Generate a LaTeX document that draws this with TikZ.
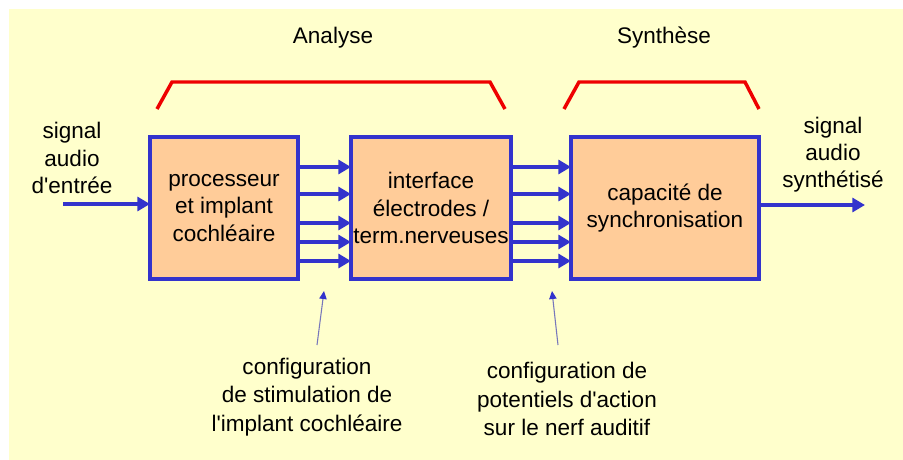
\documentclass[tikz,border=0pt]{standalone}
\usepackage{fontspec}
\setmainfont{Liberation Sans}
\usetikzlibrary{arrows.meta}
\definecolor{bgyellow}{HTML}{FFFFCC}
\definecolor{peach}{HTML}{FFCC99}
\definecolor{dblue}{HTML}{3333CC}
\definecolor{pblue}{HTML}{7777BB}
\definecolor{bred}{HTML}{EE0000}
\begin{document}
\begin{tikzpicture}[x=0.75pt,y=-0.75pt,
  txt/.style={font=\fontsize{16.9}{20.3}\selectfont, align=center, inner sep=0pt},
  lowtxt/.style={font=\fontsize{16.9}{21.5}\selectfont, align=center, inner sep=0pt},
  box/.style={draw=dblue, line width=2.3pt, fill=peach, inner sep=0pt, outer sep=0pt,
    minimum height=106.5pt, font=\fontsize{16.9}{20.3}\selectfont, align=center},
  flow/.style={draw=dblue, line width=2.3pt, -{Triangle[length=9.5pt,width=10.5pt]}},
  pointer/.style={draw=pblue, line width=0.8pt, -{Triangle[length=6pt,width=5.5pt,color=dblue]}},
  bracket/.style={draw=bred, line width=2.6pt}]
\useasboundingbox (0,0) rectangle (903,460);
\fill[white] (0,0) rectangle (903,460);
\fill[bgyellow] (9,9) rectangle (903,460);

% titles
\node[txt] (analyse) at (333,38) {Analyse};
\node[txt] (synthese) at (664,38) {Synthèse};

% brackets
\draw[bracket] (157,109) -- (172,82) -- (490,82) -- (505,109);
\draw[bracket] (564,109) -- (579,82) -- (745,82) -- (759,109);

% boxes
\node[box, minimum width=111pt] (b1) at (224,208) {processeur\\et implant\\cochléaire};
\node[box, minimum width=120pt] (b2) at (431,208) {interface\\électrodes /\\term.nerveuses};
\node[box, minimum width=141pt] (b3) at (665,208) {capacité de\\synchronisation};

% side labels
\node[txt] (inlab) at (72,158) {signal\\audio\\d\textquotesingle entrée};
\node[txt] (outlab) at (833,155) {signal\\audio\\synthétisé};

% input / output
\coordinate (in) at (63,204);
\coordinate (out) at (865,205);
\draw[flow] (in) -- (b1.west |- in);
\draw[flow] (b3.east |- out) -- (out);

% parallel arrows
\foreach \yy in {167,194,223,242,261} {
  \draw[flow] (b1.east |- 0,\yy) -- (b2.west |- 0,\yy);
  \draw[flow] (b2.east |- 0,\yy) -- (b3.west |- 0,\yy);
}

% bottom labels
\node[lowtxt] (cfg1) at (307,397) {configuration\\de stimulation de\\l\textquotesingle implant cochléaire};
\node[lowtxt] (cfg2) at (567,399) {configuration de\\potentiels d\textquotesingle action\\sur le nerf auditif};

\coordinate (s1) at (317,345);
\coordinate (s2) at (558,345);
\coordinate (t1) at (324,291);
\coordinate (t2) at (552,291);
\draw[pointer] (s1) -- (t1);
\draw[pointer] (s2) -- (t2);
\end{tikzpicture}
\end{document}
